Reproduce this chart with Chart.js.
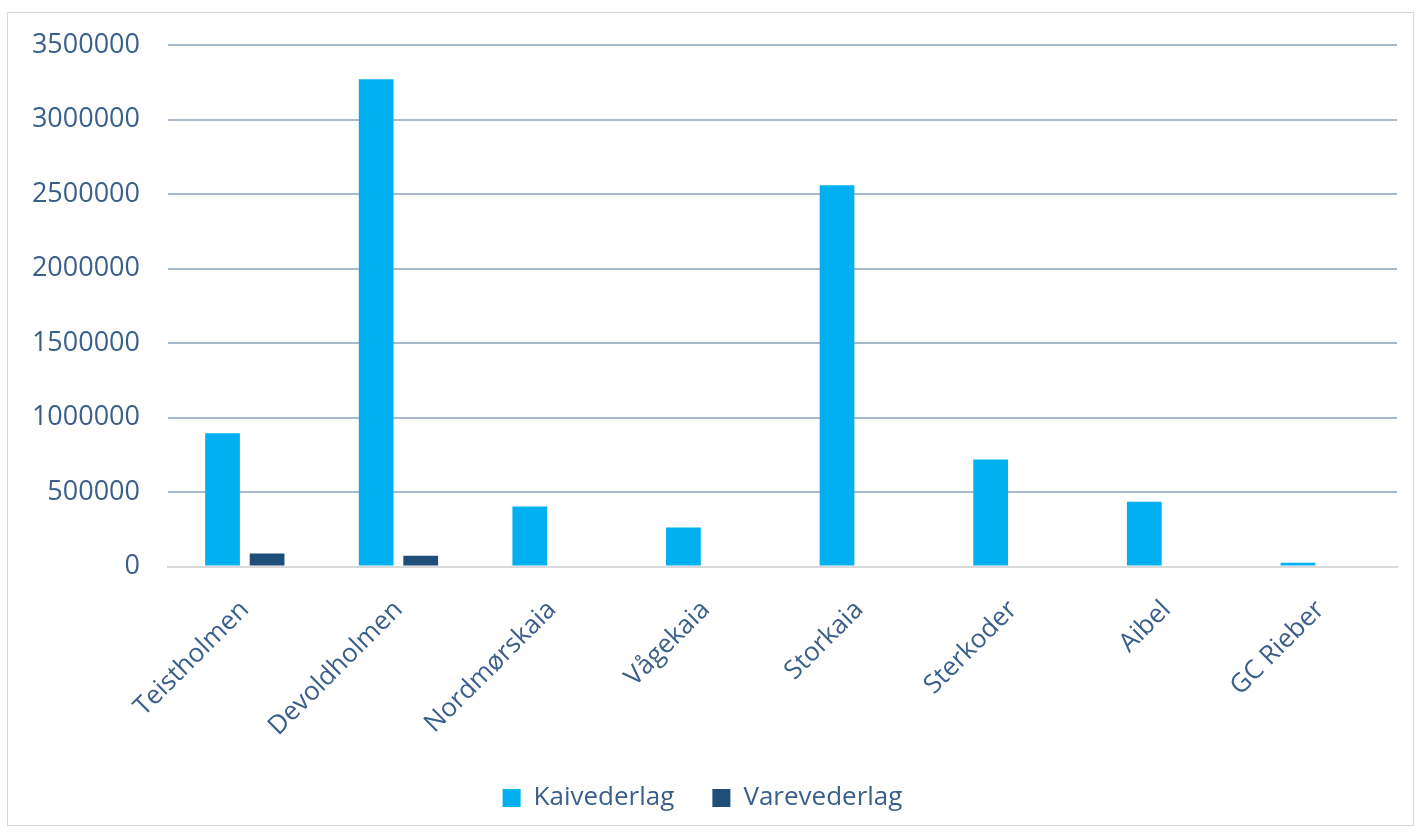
<!DOCTYPE html>
<html lang="no">
<head>
<meta charset="UTF-8">
<title>Kaivederlag og varevederlag</title>
<script src="https://cdn.jsdelivr.net/npm/chart.js"></script>
<style>
    body {
        margin: 0;
        background: #ffffff;
    }
    .frame {
        position: absolute;
        left: 7px;
        top: 12px;
        width: 1407px;
        height: 814px;
        border: 1px solid #d9d9d9;
        box-sizing: border-box;
    }
    canvas {
        display: block;
    }
</style>
</head>
<body>
<div class="frame">
    <canvas id="chart" width="1405" height="812"></canvas>
</div>
<script>
    // Data
    const kaier = ['Teistholmen', 'Devoldholmen', 'Nordmørskaia', 'Vågekaia', 'Storkaia', 'Sterkoder', 'Aibel', 'GC Rieber'];
    const kaivederlag = [895000, 3270000, 403000, 262000, 2559000, 719000, 435000, 25000];
    const varevederlag = [87000, 72000, 0, 0, 0, 0, 0, 0];
    const yTicks = [0, 500000, 1000000, 1500000, 2000000, 2500000, 3000000, 3500000];

    const textColor = '#3a5f8a';
    const fontFamily = '"Open Sans", sans-serif';

    const ctx = document.getElementById('chart').getContext('2d');
    new Chart(ctx, {
        type: 'bar',
        data: {
            labels: kaier,
            datasets: [{
                label: 'Kaivederlag',
                data: kaivederlag,
                backgroundColor: '#00b0f0',
                categoryPercentage: 0.58,
                barPercentage: 0.78
            }, {
                label: 'Varevederlag',
                data: varevederlag,
                backgroundColor: '#1f4e79',
                categoryPercentage: 0.58,
                barPercentage: 0.78
            }]
        },
        options: {
            responsive: false,
            animation: false,
            layout: {
                padding: { left: 0, right: 16, top: 0, bottom: 4 }
            },
            plugins: {
                tooltip: { enabled: false },
                legend: {
                    position: 'bottom',
                    labels: {
                        color: textColor,
                        font: { family: fontFamily, size: 26 },
                        boxWidth: 18,
                        boxHeight: 18,
                        padding: 38
                    }
                }
            },
            scales: {
                x: {
                    grid: { display: false, drawTicks: false },
                    border: { color: '#d9d9d9', width: 2 },
                    afterFit: (axis) => {
                        axis.height = axis.height - 23;
                    },
                    ticks: {
                        color: textColor,
                        font: { family: fontFamily, size: 26 },
                        minRotation: 45,
                        maxRotation: 45,
                        padding: 28
                    }
                },
                y: {
                    min: 0,
                    max: 3500000,
                    afterBuildTicks: (axis) => {
                        axis.ticks = yTicks.map(v => ({ value: v }));
                    },
                    afterFit: (axis) => {
                        axis.width = 160;
                        axis.paddingTop = 32;
                    },
                    grid: {
                        drawTicks: false,
                        color: (c) => c.tick && c.tick.value === 0 ? '#d9d9d9' : '#a9b9cc',
                        lineWidth: 2
                    },
                    border: { display: false },
                    ticks: {
                        color: textColor,
                        font: { family: fontFamily, size: 27 },
                        padding: 28,
                        callback: (v) => String(v)
                    }
                }
            }
        }
    });
</script>
</body>
</html>
